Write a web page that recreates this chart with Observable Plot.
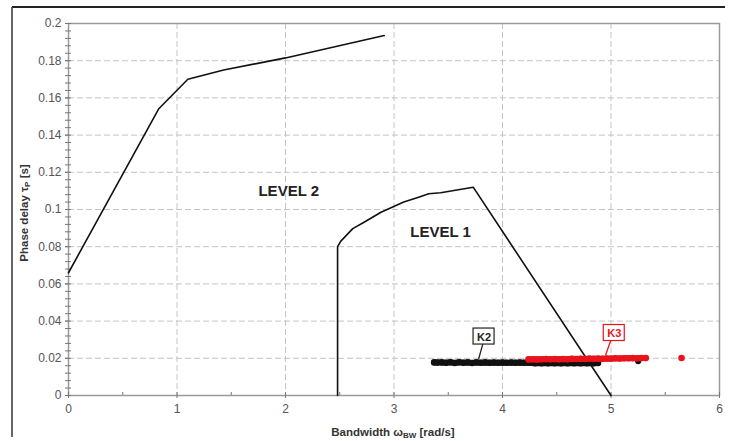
<!DOCTYPE html>
<html>
<head>
<meta charset="utf-8">
<script src="https://cdn.jsdelivr.net/npm/d3@7"></script>
<script src="https://cdn.jsdelivr.net/npm/@observablehq/plot@0.6"></script>
<style>
  html, body { margin: 0; padding: 0; background: #fff; }
  #chart svg { display: block; }
</style>
</head>
<body>
<div id="chart"></div>
<script>
// ---- data ----
const xTicks = [0, 1, 2, 3, 4, 5, 6];
const xTickLabels = ["0", "1", "2", "3", "4", "5", "6"];
const xMinorTicks = [0.5, 1.5, 2.5, 3.5, 4.5, 5.5];
const yTicks = [0, 0.02, 0.04, 0.06, 0.08, 0.1, 0.12, 0.14, 0.16, 0.18, 0.2];
const yTickLabels = ["0", "0.02", "0.04", "0.06", "0.08", "0.1", "0.12", "0.14", "0.16", "0.18", "0.2"];

// LEVEL 2 boundary
const level2X = [0, 0.83, 1.10, 1.43, 2.00, 2.91];
const level2Y = [0.066, 0.154, 0.170, 0.175, 0.1815, 0.1935];

// LEVEL 1 boundary
const level1X = [2.48, 2.48, 2.51, 2.62, 2.72, 2.88, 3.09, 3.22, 3.32, 3.43, 3.73, 5.00];
const level1Y = [0.000, 0.080, 0.083, 0.0897, 0.093, 0.0985, 0.104, 0.1065, 0.1085, 0.109, 0.112, 0.000];

// K2 cloud (black): main band + isolated point
const k2X = [3.37,3.40,3.44,3.48,3.52,3.56,3.60,3.64,3.68,3.72,3.76,3.80,3.84,3.88,3.92,3.96,4.00,4.04,4.08,4.12,4.16,4.20,4.24,4.30,4.36,4.42,4.48,4.54,4.60,4.66,4.72,4.78,4.84,4.88];
const k2Y = [0.0178,0.0177,0.0178,0.0176,0.0179,0.0175,0.0179,0.0176,0.0178,0.0175,0.0178,0.0176,0.0178,0.0176,0.0177,0.0176,0.0177,0.0176,0.0177,0.0176,0.0177,0.0176,0.0176,0.0174,0.0174,0.0173,0.0174,0.0173,0.0174,0.0173,0.0174,0.0173,0.0174,0.0175];
const k2OutX = [5.25];
const k2OutY = [0.0184];

// K3 cloud (red): main band + isolated point
const k3X = [4.24,4.28,4.32,4.36,4.40,4.44,4.48,4.52,4.56,4.60,4.64,4.68,4.72,4.76,4.80,4.84,4.88,4.92,4.96,5.00,5.04,5.08,5.12,5.16,5.20,5.24,5.28,5.32];
const k3Y = [0.0194,0.0195,0.0194,0.0195,0.0196,0.0195,0.0196,0.0195,0.0196,0.0195,0.0197,0.0196,0.0197,0.0196,0.0198,0.0197,0.0198,0.0197,0.0199,0.0198,0.0200,0.0199,0.0200,0.0200,0.0201,0.0200,0.0201,0.0201];
const k3OutX = [5.65];
const k3OutY = [0.0202];

// annotations
const regionLabels = ["LEVEL 2", "LEVEL 1"];
const regionX = [2.03, 3.43];
const regionY = [0.110, 0.0876];

const seriesLabels = ["K2", "K3"];
const seriesLabelX = [3.83, 5.03];
const seriesLabelY = [0.0317, 0.0336];
const leaderX1 = [3.82, 5.00];
const leaderY1 = [0.0280, 0.0300];
const leaderX2 = [3.78, 4.95];
const leaderY2 = [0.0196, 0.0216];
const seriesColors = ["#222222", "#e8141c"];

// ---- build tables ----
const pts = (xs, ys) => xs.map((x, i) => ({x, y: ys[i]}));
const level2 = pts(level2X, level2Y);
const level1 = pts(level1X, level1Y);
const k2 = pts(k2X, k2Y), k2Out = pts(k2OutX, k2OutY);
const k3 = pts(k3X, k3Y), k3Out = pts(k3OutX, k3OutY);
const regions = regionLabels.map((t, i) => ({t, x: regionX[i], y: regionY[i]}));
const sLabels = seriesLabels.map((t, i) => ({t, x: seriesLabelX[i], y: seriesLabelY[i], c: seriesColors[i],
  x1: leaderX1[i], y1: leaderY1[i], x2: leaderX2[i], y2: leaderY2[i]}));
const yMinor = d3.range(0, 0.2001, 0.004);
const gridY = yTicks.filter(d => d > 0 && d < 0.2);
const gridX = xTicks.filter(d => d > 0 && d < 6);

const fontFamily = "'Liberation Sans', Arial, Helvetica, sans-serif";
const black = "#111", red = "#e8141c";

const chart = Plot.plot({
  width: 736,
  height: 441,
  marginLeft: 68,
  marginRight: 17,
  marginTop: 23,
  marginBottom: 46,
  style: {fontFamily, background: "#fff", overflow: "visible"},
  x: {domain: [0, 6]},
  y: {domain: [0, 0.2]},
  marks: [
    Plot.ruleY(gridY, {stroke: "#c4c4c4", strokeWidth: 1, strokeDasharray: "6,3"}),
    Plot.ruleX(gridX, {stroke: "#c4c4c4", strokeWidth: 1, strokeDasharray: "6,3"}),
    Plot.frame({stroke: "#9a9a9a", strokeWidth: 1.5}),
    // y axis: labels + crossing ticks
    Plot.axisY({ticks: yTicks, tickFormat: d => yTickLabels[yTicks.indexOf(d)], tickSize: 3, tickPadding: 4,
      fontSize: 12, stroke: "#777", fill: "#555", label: null}),
    Plot.axisY({ticks: yMinor, tickSize: 3, text: null, stroke: "#777", label: null}),
    Plot.axisY({ticks: yMinor, tickSize: 3, text: null, stroke: "#777", label: null, dx: 3}),
    // x axis
    Plot.axisX({ticks: xTicks, tickFormat: d => xTickLabels[xTicks.indexOf(d)], tickSize: 3, tickPadding: 6,
      fontSize: 12, stroke: "#777", fill: "#555", label: null}),
    Plot.axisX({ticks: xTicks.concat(xMinorTicks), tickSize: 3, text: null, stroke: "#777", label: null, dy: -3}),
    // curves
    Plot.line(level2, {x: "x", y: "y", stroke: black, strokeWidth: 1.6}),
    Plot.line(level1, {x: "x", y: "y", stroke: black, strokeWidth: 1.6}),
    // clouds: dense band (thick line) + dots for texture
    Plot.line(k2, {x: "x", y: "y", stroke: black, strokeWidth: 6, strokeLinecap: "round"}),
    Plot.dot(k2, {x: "x", y: "y", r: 3.3, fill: black, stroke: "none"}),
    Plot.dot(k2Out, {x: "x", y: "y", r: 3, fill: black, stroke: "none"}),
    Plot.line(k3, {x: "x", y: "y", stroke: red, strokeWidth: 6, strokeLinecap: "round"}),
    Plot.dot(k3, {x: "x", y: "y", r: 3.3, fill: red, stroke: "none"}),
    Plot.dot(k3Out, {x: "x", y: "y", r: 3.3, fill: red, stroke: "none"}),
    // region labels
    Plot.text(regions, {x: "x", y: "y", text: "t", fontSize: 15, fontWeight: "bold", fill: "#222"}),
    // series labels with leaders and boxes
    Plot.link(sLabels, {x1: "x1", y1: "y1", x2: "x2", y2: "y2", stroke: "c", strokeWidth: 1.3}),
    Plot.rect(sLabels, {x1: "x", x2: "x", y1: "y", y2: "y", fill: "#fff", stroke: "c", strokeWidth: 1.2,
      insetLeft: -10.5, insetRight: -10.5, insetTop: -8, insetBottom: -8}),
    Plot.text(sLabels, {x: "x", y: "y", text: "t", fontSize: 11, fontWeight: "bold", fill: "c", dy: 0.5})
  ]
});

document.getElementById("chart").appendChild(chart);

const svg = d3.select(chart);

// outer border (top and left)
svg.append("line").attr("x1", 12).attr("x2", 725).attr("y1", 7).attr("y2", 7)
  .attr("stroke", "#222").attr("stroke-width", 2);
svg.append("line").attr("x1", 12).attr("x2", 12).attr("y1", 7).attr("y2", 437)
  .attr("stroke", "#333").attr("stroke-width", 1.5);

// axis titles
const yl = svg.append("text")
  .attr("transform", "translate(28,213) rotate(-90)")
  .attr("text-anchor", "middle")
  .attr("font-family", fontFamily).attr("font-size", 11.5).attr("font-weight", "bold").attr("fill", "#333");
yl.append("tspan").text("Phase delay τ");
yl.append("tspan").attr("font-size", 8).attr("dy", 2).text("P");
yl.append("tspan").attr("dy", -2).text(" [s]");

const xl = svg.append("text")
  .attr("x", 393).attr("y", 436)
  .attr("text-anchor", "middle")
  .attr("font-family", fontFamily).attr("font-size", 11.5).attr("font-weight", "bold").attr("fill", "#333");
xl.append("tspan").text("Bandwidth ω");
xl.append("tspan").attr("font-size", 8).attr("dy", 2).text("BW");
xl.append("tspan").attr("dy", -2).text(" [rad/s]");
</script>
</body>
</html>
